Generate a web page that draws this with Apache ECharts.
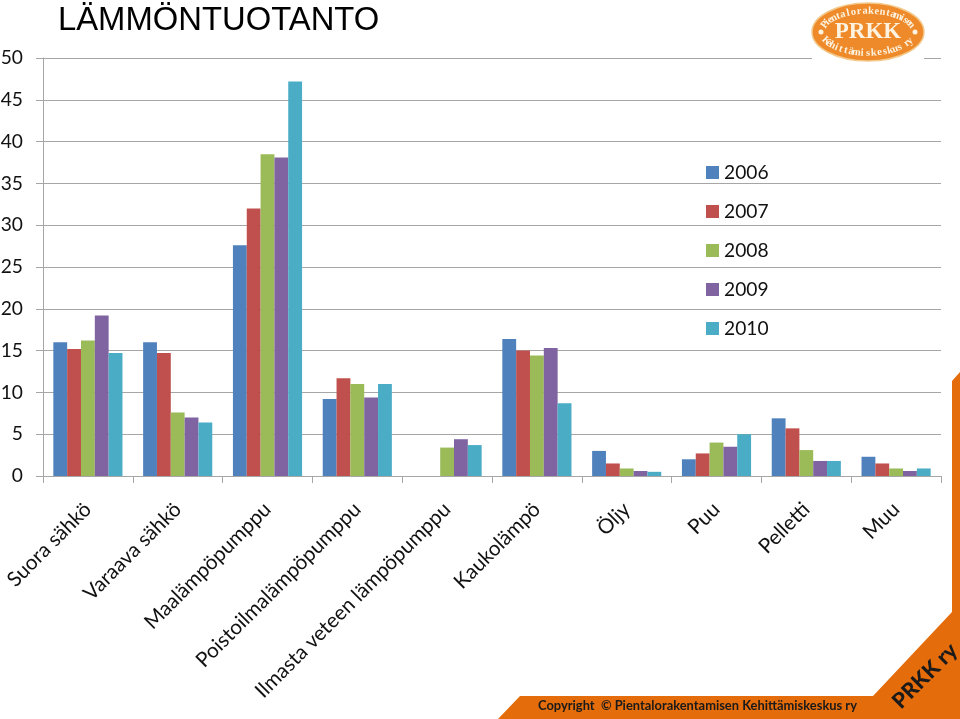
<!DOCTYPE html>
<html>
<head>
<meta charset="utf-8">
<style>html,body{margin:0;padding:0;background:#fff}#chart{width:960px;height:719px}</style>
<script src="https://cdn.jsdelivr.net/npm/echarts@6/dist/echarts.min.js"></script>
</head>
<body>
<div id="chart"></div>
<script>
const categories = ['Suora sähkö', 'Varaava sähkö', 'Maalämpöpumppu', 'Poistoilmalämpöpumppu', 'Ilmasta veteen lämpöpumppu', 'Kaukolämpö', 'Öljy', 'Puu', 'Pelletti', 'Muu']
const years = ['2006', '2007', '2008', '2009', '2010']
const colors = ['#4f81bd', '#c0504d', '#9bbb59', '#8064a2', '#4bacc6']
const v2006 = [16.0, 16.0, 27.6, 9.2, null, 16.4, 3.0, 2.0, 6.9, 2.3]
const v2007 = [15.2, 14.7, 32.0, 11.7, null, 15.0, 1.5, 2.7, 5.7, 1.5]
const v2008 = [16.2, 7.6, 38.5, 11.0, 3.4, 14.4, 0.9, 4.0, 3.1, 0.9]
const v2009 = [19.2, 7.0, 38.1, 9.4, 4.4, 15.3, 0.6, 3.5, 1.8, 0.6]
const v2010 = [14.7, 6.4, 47.2, 11.0, 3.7, 8.7, 0.5, 5.0, 1.8, 0.9]
const seriesValues = [v2006, v2007, v2008, v2009, v2010]

const font = 'Lato, "Open Sans", sans-serif'
const orange = '#e46c0a'

// text along the logo's ellipse, one glyph at a time
function arcText(str, cx, cy, rx, ry, fromDeg, toDeg, bottom) {
  return str.split('').map((ch, i) => {
    const a = (fromDeg + (toDeg - fromDeg) * i / (str.length - 1)) * Math.PI / 180
    const x = cx + rx * Math.cos(a)
    const y = cy + ry * Math.sin(a)
    const tangent = Math.atan2(ry * Math.cos(a), -rx * Math.sin(a))
    return {
      type: 'text', x, y, z: 12,
      rotation: bottom ? -tangent + Math.PI : -tangent,
      style: { text: ch, fill: '#fdf3e0', font: 'bold 10.5px "Liberation Serif", serif', align: 'center', verticalAlign: 'middle' },
    }
  })
}

const chart = echarts.init(document.getElementById('chart'), null, { renderer: 'canvas' })
chart.setOption({
  animation: false,
  title: {
    text: 'LÄMMÖNTUOTANTO', left: 53, top: -1,
    textStyle: { fontFamily: '"Liberation Sans", Arial, sans-serif', fontSize: 32.8, fontWeight: 'normal', color: '#000' },
  },
  grid: { left: 43, top: 58, width: 898, height: 418, outerBoundsMode: 'none' },
  legend: {
    orient: 'vertical', left: 701, top: 158, itemWidth: 13, itemHeight: 13, itemGap: 20,
    icon: 'rect', data: years,
    textStyle: { fontFamily: font, fontSize: 19.2, color: '#111' },
  },
  xAxis: {
    type: 'category', data: categories,
    axisLine: { lineStyle: { color: '#a6a6a6', width: 1 } },
    axisTick: { show: true, length: 7, lineStyle: { color: '#a6a6a6' } },
    axisLabel: { interval: 0, rotate: 45, margin: 30, fontFamily: font, fontSize: 20.6, color: '#111' },
  },
  yAxis: {
    type: 'value', min: 0, max: 50, interval: 5,
    axisLine: { show: true, lineStyle: { color: '#a6a6a6', width: 1 } },
    axisTick: { show: true, length: 7, lineStyle: { color: '#a6a6a6' } },
    axisLabel: { margin: 20, fontFamily: font, fontSize: 19.2, color: '#111' },
    splitLine: { lineStyle: { color: '#a6a6a6', width: 1 } },
  },
  series: years.map((y, i) => ({
    name: y, type: 'bar', data: seriesValues[i], barGap: 0, barCategoryGap: '23%',
    itemStyle: { color: colors[i] },
  })),
  graphic: [
    { type: 'polygon', z: 5, shape: { points: [[960, 372], [952, 381], [952, 612], [873, 696], [520, 696], [498, 719], [960, 719]] }, style: { fill: orange } },
    { type: 'text', x: 697.5, y: 706, z: 6, style: { text: 'Copyright  © Pientalorakentamisen Kehittämiskeskus ry', font: 'bold 12.9px Lato, sans-serif', fill: '#1a1a1a', align: 'center', verticalAlign: 'middle' } },
    { type: 'text', x: 925, y: 676, z: 6, rotation: Math.PI / 4, style: { text: 'PRKK ry', font: '900 21.5px Lato, sans-serif', fill: '#1a1a1a', align: 'center', verticalAlign: 'middle' } },
    { type: 'rect', z: 10, shape: { x: 812, y: 0, width: 112, height: 64 }, style: { fill: '#fff' } },
    { type: 'ellipse', z: 11, shape: { cx: 868, cy: 32, rx: 56, ry: 29 }, style: { fill: '#ee8a2a', stroke: '#f3c98c', lineWidth: 1.5 } },
    { type: 'text', x: 868, y: 32, z: 12, style: { text: 'PRKK', font: 'bold 23px "Liberation Serif", serif', fill: '#fdf3e0', align: 'center', verticalAlign: 'middle' } },
    { type: 'circle', z: 12, shape: { cx: 821, cy: 32, r: 2.5 }, style: { fill: '#fdf3e0' } },
    { type: 'circle', z: 12, shape: { cx: 915, cy: 32, r: 2.5 }, style: { fill: '#fdf3e0' } },
    ...arcText('Pientalorakentamisen', 868, 32, 46, 21, 200, 340, false),
    ...arcText('Kehittämiskeskus ry', 868, 32, 46, 21, 155, 25, true),
  ],
})
</script>
</body>
</html>
